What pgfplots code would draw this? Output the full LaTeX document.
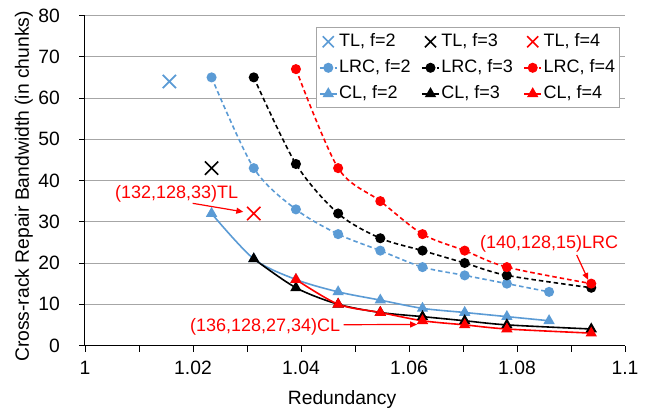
\documentclass[border=0pt]{standalone}
\usepackage{pgfplots}
\pgfplotsset{compat=1.18}
\usepackage{fontspec}
\setmainfont{Liberation Sans}
\usetikzlibrary{arrows.meta}

\definecolor{xlblue}{RGB}{91,155,213}
\definecolor{xlred}{RGB}{255,0,0}
\definecolor{gridgray}{RGB}{166,166,166}

% redundancy = n/128
\pgfplotstableread{
x y
1.015625 64
}\tltwo
\pgfplotstableread{
x y
1.0234375 43
}\tlthree
\pgfplotstableread{
x y
1.03125 32
}\tlfour
\pgfplotstableread{
x y
1.0234375 65
1.03125 43
1.0390625 33
1.046875 27
1.0546875 23
1.0625 19
1.0703125 17
1.078125 15
1.0859375 13
}\lrctwo
\pgfplotstableread{
x y
1.03125 65
1.0390625 44
1.046875 32
1.0546875 26
1.0625 23
1.0703125 20
1.078125 17
1.09375 14
}\lrcthree
\pgfplotstableread{
x y
1.0390625 67
1.046875 43
1.0546875 35
1.0625 27
1.0703125 23
1.078125 19
1.09375 15
}\lrcfour
\pgfplotstableread{
x y
1.0234375 32
1.03125 21
1.0390625 16
1.046875 13
1.0546875 11
1.0625 9
1.0703125 8
1.078125 7
1.0859375 6
}\cltwo
\pgfplotstableread{
x y
1.03125 21
1.0390625 14
1.046875 10
1.0546875 8
1.0625 7
1.0703125 6
1.078125 5
1.09375 4
}\clthree
\pgfplotstableread{
x y
1.0390625 16
1.046875 10
1.0546875 8
1.0625 6
1.0703125 5
1.078125 4
1.09375 3
}\clfour

\begin{document}
\begin{tikzpicture}[font=\fontsize{19.3}{23}\selectfont]
\useasboundingbox (-85pt,-67.5pt) rectangle (564pt,345.5pt);
\begin{axis}[
  scale only axis, width=540pt, height=330pt,
  at={(0,0)}, anchor=south west,
  xmin=1, xmax=1.1, ymin=0, ymax=80,
  axis lines=left,
  axis line style={-, black, line width=1pt},
  xtick={1,1.02,1.04,1.06,1.08,1.1},
  xticklabels={1,1.02,1.04,1.06,1.08,1.1},
  minor xtick={1.01,1.03,1.05,1.07,1.09},
  ytick={0,10,...,80},
  tick align=outside,
  major tick length=6pt, minor tick length=6pt,
  tick style={black, line width=0.8pt},
  /pgf/number format/assume math mode=true,
  yticklabel style={xshift=-15.6pt},
  xticklabel style={yshift=-6.4pt},
  ymajorgrids,
  grid style={gridgray, line width=1pt},
  xlabel={Redundancy},
  ylabel={Cross-rack Repair Bandwidth (in chunks)},
  xlabel style={at={(axis description cs:0.476,-0.1773)}, anchor=base},
  ylabel style={at={(axis description cs:-0.113,0.482)}, anchor=center},
  clip=false,
  legend columns=3,
  legend cell align=left,
  legend style={at={(rel axis cs:0.9907,0.964)}, anchor=north east,
    draw=gridgray, line width=0.8pt, fill=white,
    font=\fontsize{18}{21}\selectfont,
    inner xsep=3pt, inner ysep=1pt,
    /tikz/every even column/.append style={column sep=9pt},
    nodes={inner xsep=1.5pt, inner ysep=4.5pt, text height=13pt, text depth=4pt}},
]
\addplot[only marks, mark=x, mark size=9.4pt, xlblue, line width=1.6pt, legend image post style={mark size=7.8pt}] table {\tltwo};
\addlegendentry{TL, f=2}
\addplot[only marks, mark=x, mark size=9.4pt, black, line width=1.6pt, legend image post style={mark size=7.8pt}] table {\tlthree};
\addlegendentry{TL, f=3}
\addplot[only marks, mark=x, mark size=9.4pt, xlred, line width=1.6pt, legend image post style={mark size=7.8pt}] table {\tlfour};
\addlegendentry{TL, f=4}

\addplot[smooth, xlblue, line width=1.6pt, dash pattern=on 4.5pt off 3pt, mark=*, mark size=4.2pt, mark options={solid}] table {\lrctwo};
\addlegendentry{LRC, f=2}
\addplot[smooth, black, line width=1.6pt, dash pattern=on 4.5pt off 3pt, mark=*, mark size=4.2pt, mark options={solid}] table {\lrcthree};
\addlegendentry{LRC, f=3}
\addplot[smooth, xlred, line width=1.6pt, dash pattern=on 4.5pt off 3pt, mark=*, mark size=4.2pt, mark options={solid}] table {\lrcfour};
\addlegendentry{LRC, f=4}

\addplot[smooth, xlblue, line width=1.6pt, mark=triangle*, mark size=5pt, mark options={solid}] table {\cltwo};
\addlegendentry{CL, f=2}
\addplot[smooth, black, line width=1.6pt, mark=triangle*, mark size=5pt, mark options={solid}] table {\clthree};
\addlegendentry{CL, f=3}
\addplot[smooth, xlred, line width=1.6pt, mark=triangle*, mark size=5pt, mark options={solid}] table {\clfour};
\addlegendentry{CL, f=4}

% annotations
\node[xlred, font=\fontsize{18}{21}\selectfont] at (axis cs:1.01698,36.65) {(132,128,33)TL};
\draw[xlred, line width=1.2pt, -{Triangle[length=7pt,width=6pt]}] (axis cs:1.01994,34.47) -- (axis cs:1.02932,32.4);
\node[xlred, font=\fontsize{18}{21}\selectfont] at (axis cs:1.08596,24.6) {(140,128,15)LRC};
\draw[xlred, line width=1.2pt, -{Triangle[length=7pt,width=6pt]}] (axis cs:1.09106,21.94) -- (axis cs:1.0932,15.88);
\node[xlred, font=\fontsize{18}{21}\selectfont, anchor=east] at (axis cs:1.0479,4.41) {(136,128,27,34)CL};
\draw[xlred, line width=1.2pt, -{Triangle[length=7pt,width=6pt]}] (axis cs:1.0479,5.04) -- (axis cs:1.0615,5.1);
\end{axis}
\end{tikzpicture}
\end{document}
